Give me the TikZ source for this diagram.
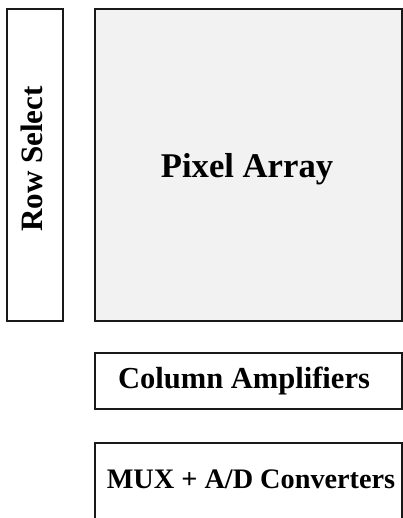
\documentclass[tikz,border=0pt]{standalone}
\usepackage{fontspec}
\setmainfont{Liberation Serif}
\begin{document}
\begin{tikzpicture}[x=0.75pt,y=-0.75pt,
  blockbox/.style={draw=black!90, line width=1.6pt},
  blocklabel/.style={font=\bfseries, text=black, inner sep=0pt},
]
\definecolor{arrayfill}{HTML}{F2F2F2}
\useasboundingbox (0,0) rectangle (403,518);
\clip (0,0) rectangle (403,518);

% Row decoder and pixel array
\draw[blockbox] (7,9) rectangle (63,321) coordinate (rs);
\draw[blockbox, fill=arrayfill] (95,9) rectangle (402,321) coordinate (pa);

% Readout chain below the array
\draw[blockbox] (95,353) rectangle (402,409) coordinate (ca);
\draw[blockbox] (95,530) -- (95,443) -- (402,443) -- (402,530);

% Labels
\node[blocklabel, rotate=90, anchor=base, font=\fontsize{23.3}{26}\selectfont\bfseries] (rowsel) at (42,159) {Row Select};
\node[blocklabel, anchor=base, font=\fontsize{26}{30}\selectfont\bfseries] (pixarr) at (247,177) {Pixel Array};
\node[blocklabel, anchor=base, font=\fontsize{22.9}{26}\selectfont\bfseries] (colamp) at (244,388) {Column Amplifiers};
\node[blocklabel, anchor=base, font=\fontsize{21.2}{24}\selectfont\bfseries] (muxadc) at (251,488) {MUX + A/D Converters};
\end{tikzpicture}
\end{document}
